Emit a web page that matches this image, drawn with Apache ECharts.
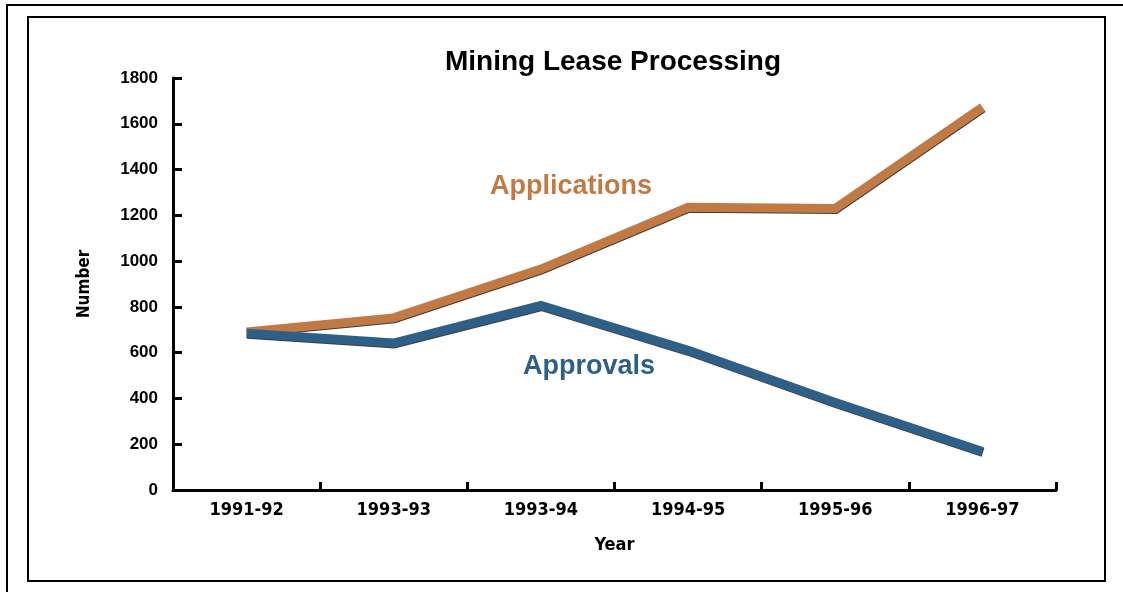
<!DOCTYPE html>
<html>
<head>
<meta charset="utf-8">
<script src="https://cdn.jsdelivr.net/npm/echarts@6/dist/echarts.min.js"></script>
<style>
    html, body { margin: 0; padding: 0; background: #fff; }
    #chart { width: 1123px; height: 592px; }
</style>
</head>
<body>
<div id="chart"></div>
<script>
// data
const years = ['1991-92', '1993-93', '1993-94', '1994-95', '1995-96', '1996-97']
const applications = [690, 752, 965, 1235, 1230, 1672]
const approvals = [685, 642, 806, 610, 382, 168]
const yTicks = [0, 200, 400, 600, 800, 1000, 1200, 1400, 1600, 1800]

const orange = '#c27a45'
const blue = '#2d5f87'
const condensed = '"DejaVu Sans Condensed", "Liberation Sans", sans-serif'
const wide = '"Liberation Sans", Arial, sans-serif'

const chart = echarts.init(document.getElementById('chart'))

function lineSeries(name, data, color) {
    return {
        name: name,
        type: 'line',
        data: data,
        symbol: 'none',
        lineStyle: {
            color: color,
            width: 9,
            cap: 'butt',
            join: 'miter',
            shadowColor: 'rgba(0,0,0,0.75)',
            shadowBlur: 0,
            shadowOffsetX: 0.5,
            shadowOffsetY: 1
        },
        itemStyle: { color: color },
        z: 3
    }
}

chart.setOption({
    animation: false,
    backgroundColor: '#fff',
    title: {
        text: 'Mining Lease Processing',
        left: 608,
        textAlign: 'center',
        top: 43,
        textStyle: {
            fontFamily: wide,
            fontWeight: 'bold',
            fontSize: 28,
            color: '#000'
        }
    },
    grid: {
        left: 173,
        right: 67,
        top: 78,
        bottom: 102
    },
    xAxis: {
        type: 'category',
        data: years,
        boundaryGap: true,
        name: 'Year',
        nameLocation: 'middle',
        nameGap: 46,
        nameTextStyle: {
            fontFamily: condensed,
            fontWeight: 'bold',
            fontSize: 18,
            color: '#000'
        },
        axisLine: { lineStyle: { color: '#000', width: 3 } },
        axisTick: { show: true, inside: true, length: 8, lineStyle: { color: '#000', width: 3 } },
        axisLabel: {
            margin: 11,
            fontFamily: condensed,
            fontWeight: 'bold',
            fontSize: 18,
            color: '#000'
        },
        splitLine: { show: false }
    },
    yAxis: {
        type: 'value',
        min: yTicks[0],
        max: yTicks[yTicks.length - 1],
        interval: 200,
        name: 'Number',
        nameLocation: 'middle',
        nameGap: 80,
        nameRotate: 90,
        nameTextStyle: {
            fontFamily: condensed,
            fontWeight: 'bold',
            fontSize: 17,
            color: '#000'
        },
        axisLine: { show: true, lineStyle: { color: '#000', width: 3 } },
        axisTick: { show: true, inside: true, length: 9, lineStyle: { color: '#000', width: 3 } },
        axisLabel: {
            margin: 15,
            formatter: function (v) { return String(v) },
            fontFamily: wide,
            fontWeight: 'bold',
            fontSize: 17,
            color: '#000'
        },
        splitLine: { show: false }
    },
    series: [
        lineSeries('Applications', applications, orange),
        lineSeries('Approvals', approvals, blue)
    ],
    graphic: [
        {
            type: 'rect',
            shape: { x: 7, y: 5, width: 1140, height: 620 },
            style: { fill: 'none', stroke: '#000', lineWidth: 2 },
            silent: true
        },
        {
            type: 'rect',
            shape: { x: 28, y: 17, width: 1077, height: 564 },
            style: { fill: 'none', stroke: '#000', lineWidth: 2 },
            silent: true
        },
        {
            type: 'text',
            left: 490,
            top: 173,
            style: {
                text: 'Applications',
                fill: orange,
                font: 'bold 27px "Liberation Sans", Arial, sans-serif'
            }
        },
        {
            type: 'text',
            left: 523,
            top: 353,
            style: {
                text: 'Approvals',
                fill: blue,
                font: 'bold 27px "Liberation Sans", Arial, sans-serif'
            }
        }
    ]
})
</script>
</body>
</html>
